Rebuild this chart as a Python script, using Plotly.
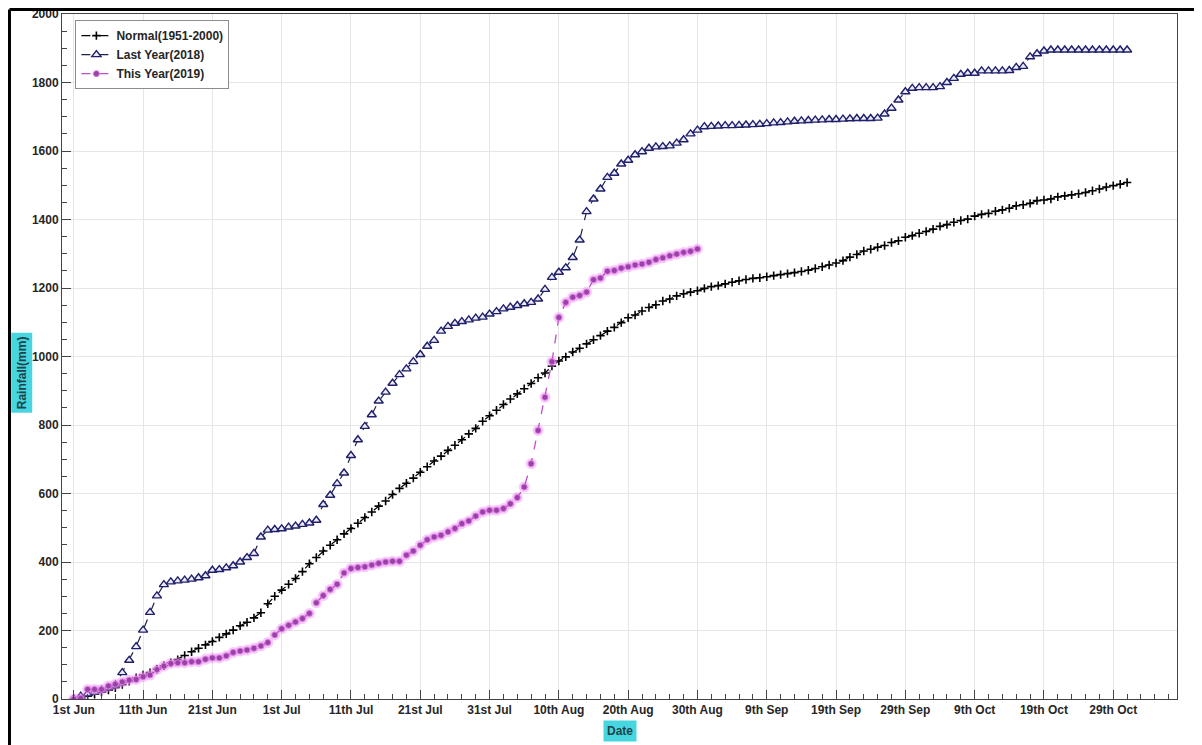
import plotly.graph_objects as go

# ---------------- data (cumulative rainfall, mm; one value per day from 1st Jun) ----------------
normal_1951_2000 = [
    0, 3, 8, 14, 20, 26, 33, 42, 52, 62,
    70, 77, 87, 97, 106, 115, 127, 138, 148, 158,
    168, 180, 190, 201, 214, 224, 237, 252, 278, 300,
    318, 335, 352, 372, 395, 413, 432, 449, 465, 482,
    498, 513, 530, 546, 563, 578, 597, 615, 630, 645,
    662, 678, 695, 709, 726, 741, 757, 774, 790, 811,
    827, 843, 860, 876, 891, 906, 921, 938, 952, 972,
    987, 999, 1013, 1024, 1037, 1049, 1061, 1074, 1085, 1099,
    1113, 1121, 1133, 1143, 1151, 1162, 1168, 1177, 1183, 1188,
    1192, 1199, 1204, 1207, 1212, 1217, 1221, 1225, 1228, 1230,
    1233, 1236, 1239, 1242, 1245, 1248, 1252, 1257, 1262, 1267,
    1273, 1280, 1290, 1298, 1308, 1313, 1319, 1324, 1333, 1338,
    1348, 1353, 1360, 1365, 1372, 1380, 1385, 1392, 1397, 1401,
    1410, 1415, 1418, 1424, 1428, 1433, 1440, 1443, 1447, 1455,
    1457, 1460, 1466, 1469, 1472, 1475, 1479, 1484, 1489, 1495,
    1499, 1503, 1508,
]

last_year_2018 = [
    0, 8, 15, 20, 26, 33, 41, 77, 113, 153,
    201, 253, 301, 334, 342, 345, 347, 350, 354, 360,
    376, 378, 383, 389, 400, 413, 425, 473, 493, 495,
    497, 502, 505, 510, 514, 522, 568, 595, 629, 660,
    711, 757, 796, 830, 870, 896, 922, 947, 964, 985,
    1006, 1030, 1047, 1074, 1088, 1097, 1102, 1107, 1112, 1115,
    1124, 1131, 1139, 1144, 1149, 1154, 1158, 1168, 1196, 1231,
    1246, 1259, 1289, 1340, 1423, 1460, 1489, 1523, 1535, 1562,
    1573, 1589, 1598, 1608, 1612, 1613, 1615, 1623, 1633, 1650,
    1661, 1671, 1672, 1673, 1674, 1674, 1675, 1676, 1677, 1678,
    1680, 1682, 1683, 1685, 1687, 1688, 1689, 1690, 1691, 1692,
    1692, 1693, 1694, 1695, 1695, 1695, 1696, 1708, 1725, 1749,
    1773, 1783, 1785, 1785, 1785, 1788, 1800, 1812, 1824, 1827,
    1827, 1834, 1834, 1834, 1834, 1835, 1844, 1847, 1875, 1884,
    1892, 1895, 1895, 1895, 1895, 1895, 1895, 1895, 1895, 1895,
    1895, 1895, 1895,
]

this_year_2019 = [
    0, 2, 28, 28, 28, 38, 43, 50, 55, 57,
    65, 70, 86, 96, 104, 106, 106, 109, 109, 116,
    120, 120, 126, 136, 140, 143, 148, 155, 165, 187,
    205, 215, 225, 235, 250, 281, 302, 320, 335, 368,
    381, 384, 386, 391, 396, 400, 402, 402, 420, 432,
    449, 465, 473, 478, 488, 498, 512, 520, 534, 546,
    551, 551, 556, 570, 588, 619, 687, 784, 881, 985,
    1114, 1158, 1173, 1178, 1188, 1224, 1229, 1249, 1251, 1258,
    1262, 1267, 1270, 1275, 1283, 1288, 1294, 1299, 1304, 1307,
    1314,
]

tick_days = [0, 10, 20, 30, 40, 50, 60, 70, 80, 90, 100, 110, 120, 130, 140, 150]
tick_labels = ["1st Jun", "11th Jun", "21st Jun", "1st Jul", "11th Jul", "21st Jul",
               "31st Jul", "10th Aug", "20th Aug", "30th Aug", "9th Sep", "19th Sep",
               "29th Sep", "9th Oct", "19th Oct", "29th Oct"]

series_names = ["Normal(1951-2000)", "Last Year(2018)", "This Year(2019)"]

# ---------------- figure ----------------
fig = go.Figure()

fig.add_trace(go.Scatter(
    x=list(range(len(normal_1951_2000))), y=normal_1951_2000,
    name=series_names[0], mode="lines+markers",
    line=dict(color="black", width=1.2, dash="dash"),
    marker=dict(symbol="cross-thin", size=6, line=dict(color="black", width=1.6)),
))

fig.add_trace(go.Scatter(
    x=list(range(len(last_year_2018))), y=last_year_2018,
    name=series_names[1], mode="lines+markers",
    line=dict(color="#222244", width=1.2, dash="dash"),
    marker=dict(symbol="triangle-up", size=8, color="#ececf6",
                line=dict(color="#1f1f6b", width=1.4)),
))

# soft pink halo under the 2019 markers
fig.add_trace(go.Scatter(
    x=list(range(len(this_year_2019))), y=this_year_2019,
    mode="markers", showlegend=False, hoverinfo="skip",
    marker=dict(symbol="circle", size=11, color="rgba(240,140,244,0.45)"),
))
fig.add_trace(go.Scatter(
    x=list(range(len(this_year_2019))), y=this_year_2019,
    name=series_names[2], mode="lines+markers",
    line=dict(color="#c04ec8", width=1.3, dash="dash"),
    marker=dict(symbol="circle", size=6, color="#9a40a8",
                line=dict(color="#d880e0", width=1)),
))

axis_font = dict(family="Liberation Sans, Arial, sans-serif", size=12, color="#262626", weight="bold")

fig.update_xaxes(
    range=[-1.7, 159.2],
    tickmode="array", tickvals=tick_days, ticktext=tick_labels,
    ticks="inside", ticklen=9, tickwidth=1, tickcolor="#444444",
    showline=True, linecolor="#444444", linewidth=1, mirror=True,
    showgrid=True, gridcolor="#e6e6e6", gridwidth=1,
    zeroline=False, automargin=False, ticklabeloverflow="allow",
    minor=dict(dtick=2, tick0=0, ticks="inside", ticklen=5, tickcolor="#444444", showgrid=False),
    tickfont=axis_font,
)
fig.update_yaxes(
    range=[0, 2000], dtick=200, tick0=0,
    ticks="inside", ticklen=9, tickwidth=1, tickcolor="#444444",
    showline=True, linecolor="#444444", linewidth=1, mirror=True,
    showgrid=True, gridcolor="#e6e6e6", gridwidth=1,
    zeroline=False, automargin=False, ticklabeloverflow="allow",
    minor=dict(dtick=50, tick0=0, ticks="inside", ticklen=5, tickcolor="#444444", showgrid=False),
    tickfont=axis_font,
)

# the page body adds an 8px offset, so the figure is sized/margined to compensate
fig.update_layout(
    width=1194, height=737,
    margin=dict(l=54, r=25, t=6, b=46, autoexpand=False),
    paper_bgcolor="white", plot_bgcolor="white",
    font=dict(family="Liberation Sans, Arial, sans-serif", size=12, color="#262626"),
    showlegend=True,
    legend=dict(
        x=0.012, y=0.991, xanchor="left", yanchor="top",
        bgcolor="white", bordercolor="#8c8c8c", borderwidth=1,
        font=dict(family="Liberation Sans, Arial, sans-serif", size=12, color="#262626", weight="bold"),
        tracegroupgap=0, itemwidth=30,
    ),
    annotations=[
        dict(text="Rainfall(mm)", textangle=-90, xref="paper", yref="paper",
             x=-0.0359, y=0.477, xanchor="center", yanchor="middle", showarrow=False,
             font=dict(family="Liberation Sans, Arial, sans-serif", size=12, color="#1d4449", weight="bold"),
             bgcolor="#47d6df", borderpad=3),
        dict(text="Date", xref="paper", yref="paper",
             x=0.5004, y=-0.0467, xanchor="center", yanchor="middle", showarrow=False,
             font=dict(family="Liberation Sans, Arial, sans-serif", size=12, color="#1d4449", weight="bold"),
             bgcolor="#47d6df", borderpad=3),
    ],
    shapes=[
        dict(type="line", xref="paper", yref="paper", x0=-0.0471, x1=-0.0471, y0=-0.08, y1=1.0066,
             line=dict(color="black", width=3)),
        dict(type="line", xref="paper", yref="paper", x0=-0.0471, x1=1.0188, y0=1.0066, y1=1.0066,
             line=dict(color="black", width=3)),
        dict(type="line", xref="paper", yref="paper", x0=1.0188, x1=1.0188, y0=-0.08, y1=1.0066,
             line=dict(color="black", width=1.5)),
    ],
)

fig.write_html("out.html")
